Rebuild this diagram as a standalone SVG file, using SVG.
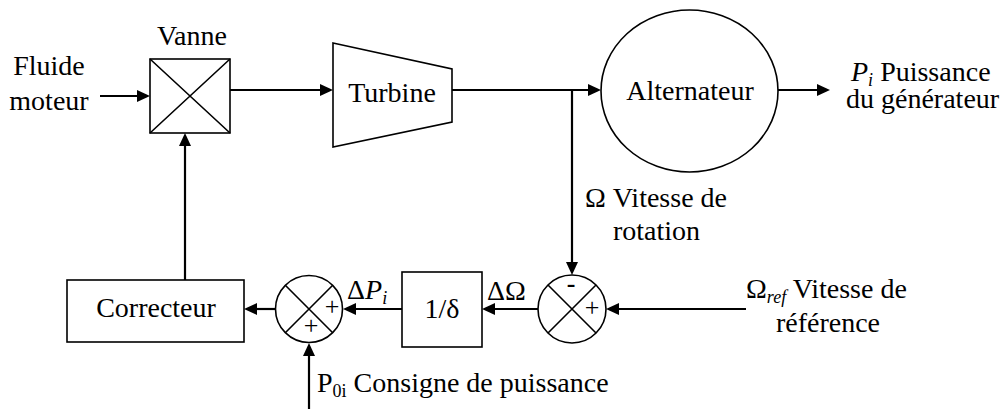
<svg xmlns="http://www.w3.org/2000/svg" width="1003" height="409" viewBox="0 0 1003 409">
<rect width="1003" height="409" fill="#fff"/>

<g id="connectors">
<g fill="none" stroke="#000" stroke-width="2.2">
<line x1="100" y1="96" x2="138" y2="96"/>
<line x1="230" y1="90" x2="321" y2="90"/>
<line x1="452" y1="90" x2="589" y2="90"/>
<line x1="572" y1="89" x2="572" y2="263"/>
<line x1="778" y1="90" x2="818" y2="90"/>
<line x1="746" y1="309" x2="618" y2="309"/>
<line x1="538" y1="309" x2="494" y2="309"/>
<line x1="402" y1="309" x2="355" y2="309"/>
<line x1="276" y1="309" x2="256" y2="309"/>
<line x1="185" y1="280" x2="185" y2="145"/>
<line x1="309" y1="409" x2="309" y2="355"/>
</g>
<g fill="#000">
<polygon points="150,96 137,90 137,102"/>
<polygon points="333,90 320,84 320,96"/>
<polygon points="601,90 588,84 588,96"/>
<polygon points="572,275 566,262 578,262"/>
<polygon points="830,90 817,84 817,96"/>
<polygon points="606,309 619,303 619,315"/>
<polygon points="482,309 495,303 495,315"/>
<polygon points="343,309 356,303 356,315"/>
<polygon points="244,309 257,303 257,315"/>
<polygon points="185,133 179,146 191,146"/>
<polygon points="309,343 303,356 315,356"/>
</g>
</g>

<g id="fluide">
<text x="49" y="75" text-anchor="middle" font-family="Liberation Serif" font-size="28">Fluide</text>
<text x="49" y="110" text-anchor="middle" font-family="Liberation Serif" font-size="28">moteur</text>
</g>

<g id="vanne">
<text x="192" y="45" text-anchor="middle" font-family="Liberation Serif" font-size="28">Vanne</text>
<rect x="150" y="59" width="80" height="74" fill="#fff" stroke="#000" stroke-width="1.6"/>
<path d="M150,59 L230,133 M230,59 L150,133" fill="none" stroke="#000" stroke-width="1.6"/>
</g>

<g id="turbine">
<polygon points="333,43 452,69 452,122 333,147" fill="#fff" stroke="#000" stroke-width="1.6"/>
<text x="392" y="102" text-anchor="middle" font-family="Liberation Serif" font-size="28">Turbine</text>
</g>

<g id="alternateur">
<ellipse cx="689.5" cy="91" rx="88.5" ry="81" fill="#fff" stroke="#000" stroke-width="1.6"/>
<text x="690" y="100" text-anchor="middle" font-family="Liberation Serif" font-size="28">Alternateur</text>
</g>

<g id="puissance">
<text x="851" y="81" font-family="Liberation Serif" font-size="28"><tspan font-style="italic">P</tspan><tspan font-style="italic" font-size="18" dy="5">i</tspan><tspan dy="-5"> Puissance</tspan></text>
<text x="846" y="108" font-family="Liberation Serif" font-size="28">du générateur</text>
</g>

<g id="vitesse-rotation">
<text x="585" y="207" font-family="Liberation Serif" font-size="28">Ω Vitesse de</text>
<text x="613" y="240" font-family="Liberation Serif" font-size="28">rotation</text>
</g>

<g id="vitesse-reference">
<text x="746" y="298" font-family="Liberation Serif" font-size="28">Ω<tspan font-style="italic" font-size="18" dy="5">ref</tspan><tspan dy="-5"> Vitesse de</tspan></text>
<text x="828" y="332" text-anchor="middle" font-family="Liberation Serif" font-size="28">référence</text>
</g>

<g id="sommateur1">
<circle cx="572" cy="309" r="34" fill="#fff" stroke="#000" stroke-width="1.6"/>
<path d="M548,285 L596,333 M596,285 L548,333" fill="none" stroke="#000" stroke-width="1.6"/>
<text x="571" y="292" text-anchor="middle" font-family="Liberation Serif" font-size="26" font-weight="bold">-</text>
<text x="592" y="316" text-anchor="middle" font-family="Liberation Serif" font-size="26">+</text>
</g>

<g id="delta-omega">
<text x="487" y="300" font-family="Liberation Serif" font-size="28">ΔΩ</text>
</g>

<g id="gain">
<rect x="402" y="272" width="80" height="75" fill="#fff" stroke="#000" stroke-width="1.6"/>
<text x="442" y="318" text-anchor="middle" font-family="Liberation Serif" font-size="28">1/δ</text>
</g>

<g id="delta-p">
<text x="347" y="299" font-family="Liberation Serif" font-size="28">Δ<tspan font-style="italic">P</tspan><tspan font-style="italic" font-size="18" dy="5">i</tspan></text>
</g>

<g id="sommateur2">
<circle cx="309" cy="309" r="33.5" fill="#fff" stroke="#000" stroke-width="1.6"/>
<path d="M285.3,285.3 L332.7,332.7 M332.7,285.3 L285.3,332.7" fill="none" stroke="#000" stroke-width="1.6"/>
<text x="332" y="315" text-anchor="middle" font-family="Liberation Serif" font-size="26">+</text>
<text x="311" y="334" text-anchor="middle" font-family="Liberation Serif" font-size="26">+</text>
</g>

<g id="correcteur">
<rect x="67" y="280" width="177" height="62" fill="#fff" stroke="#000" stroke-width="1.6"/>
<text x="156" y="317" text-anchor="middle" font-family="Liberation Serif" font-size="28">Correcteur</text>
</g>

<g id="consigne">
<text x="317" y="392" font-family="Liberation Serif" font-size="28">P<tspan font-size="18" dy="5">0i</tspan><tspan dy="-5"> Consigne de puissance</tspan></text>
</g>
</svg>
